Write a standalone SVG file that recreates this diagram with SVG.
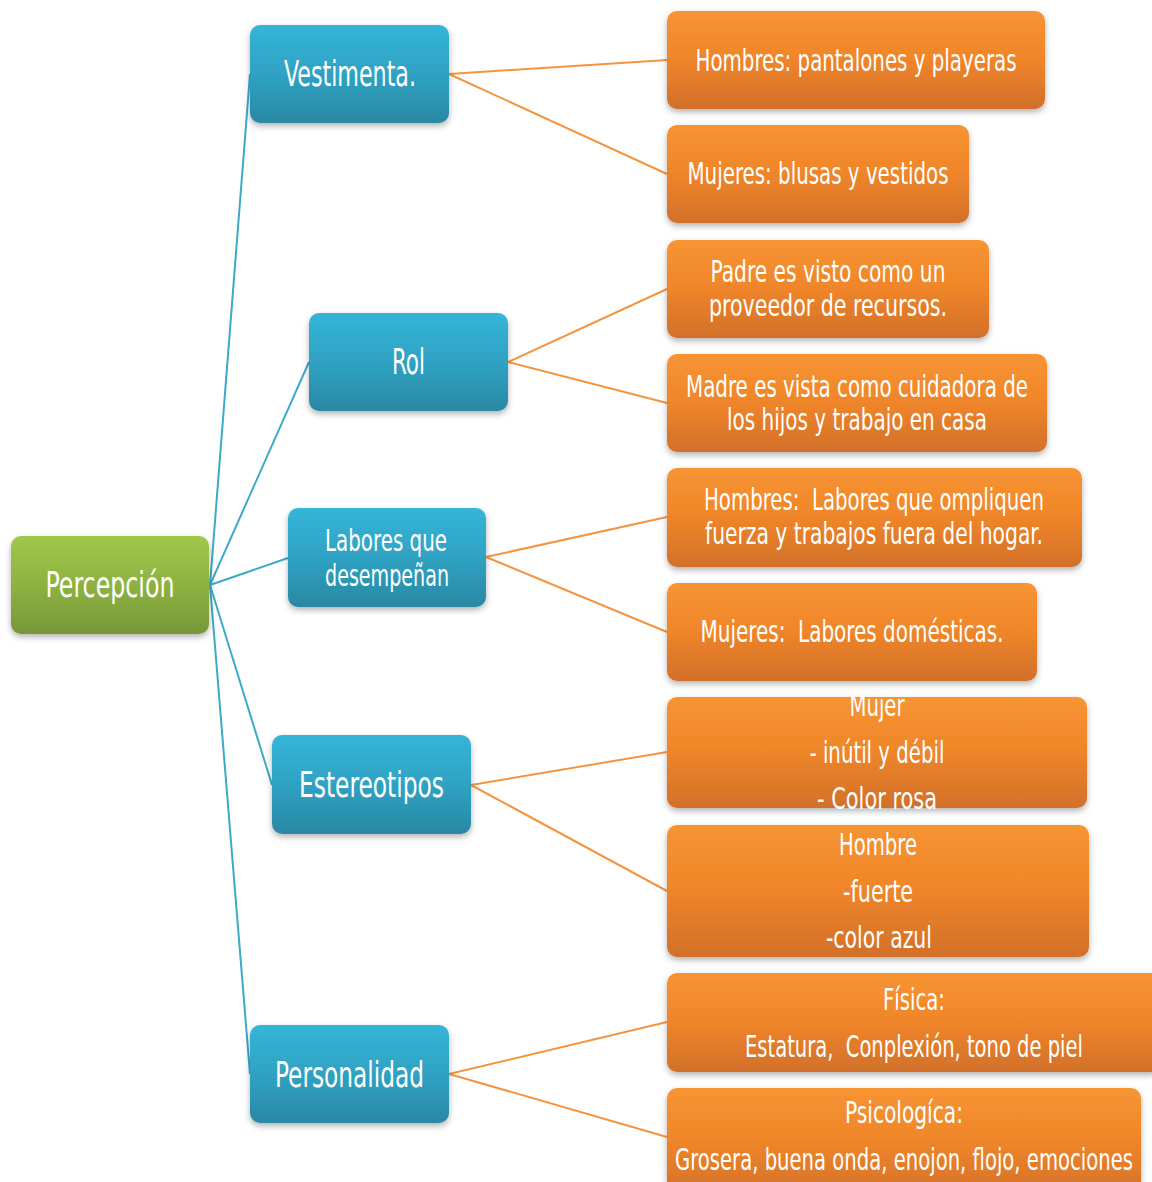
<svg xmlns="http://www.w3.org/2000/svg" width="1152" height="1182" viewBox="0 0 1152 1182">
<style>
.t{font-family:"Liberation Sans Narrow","DejaVu Sans Condensed","Liberation Sans",sans-serif;fill:#fff;text-anchor:middle;white-space:pre}
.big{font-size:36px}
.mid{font-size:30px}
.sm{font-size:30px}
.bl{stroke:#3CAAC8;stroke-width:2;fill:none}
.ol{stroke:#F5943F;stroke-width:2;fill:none}
</style>
<defs>
<linearGradient id="gO" x1="0" y1="0" x2="0" y2="1"><stop offset="0" stop-color="#F79433"/><stop offset="0.5" stop-color="#EF8529"/><stop offset="1" stop-color="#D2702A"/></linearGradient>
<linearGradient id="gB" x1="0" y1="0" x2="0" y2="1"><stop offset="0" stop-color="#35B5D8"/><stop offset="0.5" stop-color="#2FA2C3"/><stop offset="1" stop-color="#2A88A3"/></linearGradient>
<linearGradient id="gG" x1="0" y1="0" x2="0" y2="1"><stop offset="0" stop-color="#A0C84A"/><stop offset="0.5" stop-color="#8DB241"/><stop offset="1" stop-color="#789739"/></linearGradient>
<filter id="sh" x="-10%" y="-10%" width="120%" height="130%"><feDropShadow dx="0" dy="3" stdDeviation="3" flood-color="#000" flood-opacity="0.3"/></filter>
</defs>
<rect width="1152" height="1182" fill="#fff"/>
<g id="connectors">
<line class="bl" x1="210" y1="585" x2="250" y2="74"/>
<line class="bl" x1="210" y1="585" x2="309" y2="362"/>
<line class="bl" x1="210" y1="585" x2="288" y2="558"/>
<line class="bl" x1="210" y1="585" x2="272" y2="785"/>
<line class="bl" x1="210" y1="585" x2="250" y2="1074"/>
<line class="ol" x1="449" y1="74" x2="667" y2="60"/>
<line class="ol" x1="449" y1="74" x2="667" y2="174"/>
<line class="ol" x1="508" y1="362" x2="667" y2="289"/>
<line class="ol" x1="508" y1="362" x2="667" y2="403"/>
<line class="ol" x1="486" y1="557" x2="667" y2="517"/>
<line class="ol" x1="486" y1="557" x2="667" y2="632"/>
<line class="ol" x1="471" y1="785" x2="667" y2="752"/>
<line class="ol" x1="471" y1="785" x2="667" y2="891"/>
<line class="ol" x1="449" y1="1074" x2="667" y2="1022"/>
<line class="ol" x1="449" y1="1074" x2="667" y2="1137"/>
</g>
<g id="percepcion"><rect x="11" y="536" width="198" height="98" rx="10" fill="url(#gG)" filter="url(#sh)"/><text class="t big" x="110" y="597" textLength="129" lengthAdjust="spacingAndGlyphs">Percepción</text></g>
<g id="vestimenta"><rect x="250" y="25" width="199" height="98" rx="10" fill="url(#gB)" filter="url(#sh)"/><text class="t big" x="350" y="86" textLength="132" lengthAdjust="spacingAndGlyphs">Vestimenta.</text></g>
<g id="rol"><rect x="309" y="313" width="199" height="98" rx="10" fill="url(#gB)" filter="url(#sh)"/><text class="t big" x="408.5" y="374" textLength="33" lengthAdjust="spacingAndGlyphs">Rol</text></g>
<g id="labores"><rect x="288" y="508" width="198" height="99" rx="10" fill="url(#gB)" filter="url(#sh)"/><text class="t mid" x="386" y="551" textLength="122" lengthAdjust="spacingAndGlyphs">Labores que</text><text class="t mid" x="387" y="586" textLength="124" lengthAdjust="spacingAndGlyphs">desempeñan</text></g>
<g id="estereotipos"><rect x="272" y="735" width="199" height="99" rx="10" fill="url(#gB)" filter="url(#sh)"/><text class="t big" x="371.5" y="797" textLength="145" lengthAdjust="spacingAndGlyphs">Estereotipos</text></g>
<g id="personalidad"><rect x="250" y="1025" width="199" height="98" rx="10" fill="url(#gB)" filter="url(#sh)"/><text class="t big" x="349.5" y="1087" textLength="149" lengthAdjust="spacingAndGlyphs">Personalidad</text></g>
<g id="hombres-vest"><rect x="667" y="11" width="378" height="98" rx="10" fill="url(#gO)" filter="url(#sh)"/><text class="t sm" x="856" y="71" textLength="321" lengthAdjust="spacingAndGlyphs">Hombres: pantalones y playeras</text></g>
<g id="mujeres-vest"><rect x="667" y="125" width="302" height="98" rx="10" fill="url(#gO)" filter="url(#sh)"/><text class="t sm" x="818" y="184" textLength="261" lengthAdjust="spacingAndGlyphs">Mujeres: blusas y vestidos</text></g>
<g id="padre"><rect x="667" y="240" width="322" height="98" rx="10" fill="url(#gO)" filter="url(#sh)"/><text class="t sm" x="828" y="282" textLength="235" lengthAdjust="spacingAndGlyphs">Padre es visto como un</text><text class="t sm" x="828" y="316" textLength="238" lengthAdjust="spacingAndGlyphs">proveedor de recursos.</text></g>
<g id="madre"><rect x="667" y="354" width="380" height="98" rx="10" fill="url(#gO)" filter="url(#sh)"/><text class="t sm" x="857" y="397" textLength="342" lengthAdjust="spacingAndGlyphs">Madre es vista como cuidadora de</text><text class="t sm" x="857" y="430" textLength="260" lengthAdjust="spacingAndGlyphs">los hijos y trabajo en casa</text></g>
<g id="hombres-lab"><rect x="667" y="468" width="415" height="99" rx="10" fill="url(#gO)" filter="url(#sh)"/><text class="t sm" x="874" y="510" textLength="340" lengthAdjust="spacingAndGlyphs">Hombres:  Labores que ompliquen</text><text class="t sm" x="874" y="544" textLength="338" lengthAdjust="spacingAndGlyphs">fuerza y trabajos fuera del hogar.</text></g>
<g id="mujeres-lab"><rect x="667" y="583" width="370" height="98" rx="10" fill="url(#gO)" filter="url(#sh)"/><text class="t sm" x="852" y="642" textLength="303" lengthAdjust="spacingAndGlyphs">Mujeres:  Labores domésticas.</text></g>
<g id="mujer"><rect x="667" y="697" width="420" height="111" rx="10" fill="url(#gO)" filter="url(#sh)"/><text class="t sm" x="877" y="716" textLength="55" lengthAdjust="spacingAndGlyphs">Mujer</text><text class="t sm" x="877" y="763" textLength="135" lengthAdjust="spacingAndGlyphs">- inútil y débil</text><text class="t sm" x="877" y="809" textLength="120" lengthAdjust="spacingAndGlyphs">- Color rosa</text></g>
<g id="hombre"><rect x="667" y="825" width="422" height="132" rx="10" fill="url(#gO)" filter="url(#sh)"/><text class="t sm" x="878" y="855" textLength="78" lengthAdjust="spacingAndGlyphs">Hombre</text><text class="t sm" x="878" y="902" textLength="70" lengthAdjust="spacingAndGlyphs">-fuerte</text><text class="t sm" x="879" y="948" textLength="106" lengthAdjust="spacingAndGlyphs">-color azul</text></g>
<g id="fisica"><rect x="667" y="973" width="494" height="99" rx="10" fill="url(#gO)" filter="url(#sh)"/><text class="t sm" x="914" y="1010" textLength="62" lengthAdjust="spacingAndGlyphs">Física:</text><text class="t sm" x="914" y="1057" textLength="338" lengthAdjust="spacingAndGlyphs">Estatura,  Conplexión, tono de piel</text></g>
<g id="psicologica"><rect x="667" y="1088" width="474" height="110" rx="10" fill="url(#gO)" filter="url(#sh)"/><text class="t sm" x="904" y="1123" textLength="118" lengthAdjust="spacingAndGlyphs">Psicologíca:</text><text class="t sm" x="904" y="1170" textLength="458" lengthAdjust="spacingAndGlyphs">Grosera, buena onda, enojon, flojo, emociones</text></g>
</svg>
